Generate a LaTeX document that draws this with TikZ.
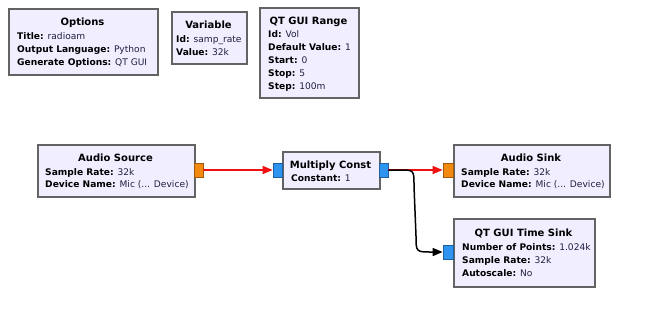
\documentclass[tikz,border=0pt]{standalone}
\usepackage{fontspec}
\setmainfont{DejaVu Sans}
\usetikzlibrary{arrows.meta}
\definecolor{blockfill}{HTML}{F0EEFF}
\definecolor{blockdraw}{HTML}{636363}
\definecolor{floatport}{HTML}{F28A10}
\definecolor{floatline}{HTML}{A05A10}
\definecolor{cplxport}{HTML}{2F93F0}
\definecolor{cplxline}{HTML}{1E5F9E}
\definecolor{valcol}{HTML}{202040}
\definecolor{redconn}{HTML}{F01010}
\newcommand{\kv}[2]{\textbf{#1:} \textcolor{valcol}{#2}}
\begin{document}
\begin{tikzpicture}[x=1pt,y=-1pt,
  block/.style={draw=blockdraw, fill=blockfill, line width=1.8pt, inner sep=0pt, anchor=north west},
  ttl/.style={font=\fontsize{10}{12}\selectfont\bfseries, anchor=mid, inner sep=0pt},
  prm/.style={font=\fontsize{9.1}{11}\selectfont, anchor=mid west, inner sep=0pt},
  fport/.style={draw=floatline, fill=floatport, minimum width=9pt, minimum height=14pt, inner sep=0pt, line width=0.7pt},
  cport/.style={draw=cplxline, fill=cplxport, minimum width=9pt, minimum height=14pt, inner sep=0pt, line width=0.7pt},
  conn/.style={line width=1.5pt, -{Triangle[length=10pt,width=8pt]}},
]
\useasboundingbox[fill=white] (0,0) rectangle (660,314);

% Options
\node[block, minimum width=149pt, minimum height=66pt] (opt) at (8,8) {};
\node[ttl] (optT) at (82.5,22.5) {Options};
\node[prm] (opt1) at (17,36.5) {\kv{Title}{radioam}};
\node[prm] (opt2) at (17,49.5) {\kv{Output Language}{Python}};
\node[prm] (opt3) at (17,62.5) {\kv{Generate Options}{QT GUI}};

% Variable
\node[block, minimum width=75pt, minimum height=52pt] (var) at (171,11) {};
\node[ttl] (varT) at (208.5,25.5) {Variable};
\node[prm] (var1) at (176,39.5) {\kv{Id}{samp\_rate}};
\node[prm] (var2) at (176,52.5) {\kv{Value}{32k}};

% QT GUI Range
\node[block, minimum width=99pt, minimum height=90pt] (rng) at (259,7) {};
\node[ttl] (rngT) at (308.5,21.5) {QT GUI Range};
\node[prm] (rng1) at (268,34.5) {\kv{Id}{Vol}};
\node[prm] (rng2) at (268,47.5) {\kv{Default Value}{1}};
\node[prm] (rng3) at (268,60.5) {\kv{Start}{0}};
\node[prm] (rng4) at (268,73.5) {\kv{Stop}{5}};
\node[prm] (rng5) at (268,86.5) {\kv{Step}{100m}};

% Audio Source
\node[block, minimum width=157pt, minimum height=52pt] (asrc) at (37,144) {};
\node[ttl] (asrcT) at (115.5,159) {Audio Source};
\node[prm] (asrc1) at (45,172.5) {\kv{Sample Rate}{32k}};
\node[prm] (asrc2) at (45,185) {\kv{Device Name}{Mic (... Device)}};
\node[fport] (asrcout) at (198.5,170) {};

% Multiply Const
\node[block, minimum width=97pt, minimum height=37pt] (mc) at (282,151) {};
\node[ttl] (mcT) at (330.5,165.5) {Multiply Const};
\node[prm] (mc1) at (291,179) {\kv{Constant}{1}};
\node[cport] (mcin) at (277.5,170) {};
\node[cport] (mcout) at (383.5,170) {};

% Audio Sink
\node[block, minimum width=156pt, minimum height=52pt] (asnk) at (453,144) {};
\node[ttl] (asnkT) at (531,159) {Audio Sink};
\node[prm] (asnk1) at (461,172.5) {\kv{Sample Rate}{32k}};
\node[prm] (asnk2) at (461,185) {\kv{Device Name}{Mic (... Device)}};
\node[fport, minimum width=10pt] (asnkin) at (448,170) {};

% QT GUI Time Sink
\node[block, minimum width=141pt, minimum height=68pt] (ts) at (453,218) {};
\node[ttl] (tsT) at (523.5,234) {QT GUI Time Sink};
\node[prm] (ts1) at (462,247.5) {\kv{Number of Points}{1.024k}};
\node[prm] (ts2) at (462,260.5) {\kv{Sample Rate}{32k}};
\node[prm] (ts3) at (462,273.5) {\kv{Autoscale}{No}};
\node[cport, minimum width=10pt] (tsin) at (448,252) {};

% Connectors
\draw[conn, redconn] (asrcout.east) -- (mcin.west);
\draw[conn, redconn] (mcout.east) -- (asnkin.west);
\draw[conn, black] (mcout.east) -- (400,170) .. controls (414,170) .. (414,186)
  -- (416,236) .. controls (416,252) .. (432,252) -- (tsin.west);
\end{tikzpicture}
\end{document}
